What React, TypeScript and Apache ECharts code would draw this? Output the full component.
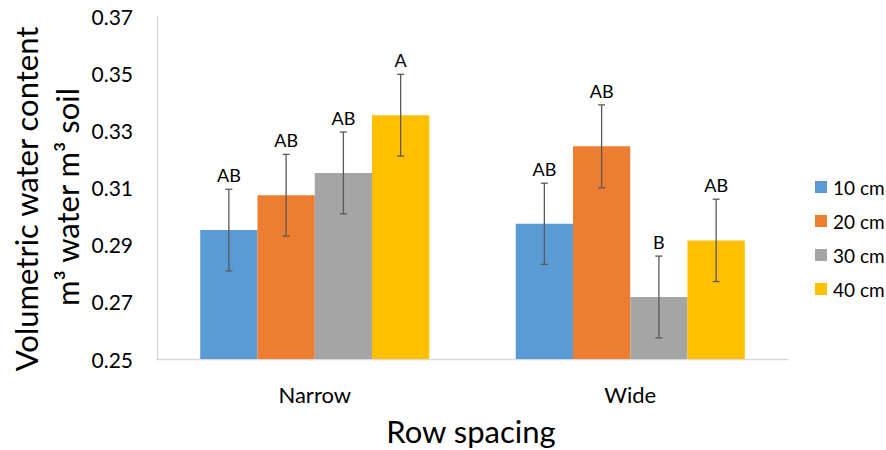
import React, { useEffect, useRef } from "react";
import * as echarts from "echarts";

// Row spacing groups on the x axis
const categories = ["Narrow", "Wide"];
// Sampling depths (one bar per depth in each group)
const depths = ["10 cm", "20 cm", "30 cm", "40 cm"];
const depthColors = ["#5B9BD5", "#ED7D31", "#A5A5A5", "#FFC000"];

// Mean volumetric water content, per depth: [Narrow, Wide]
const vwc10 = [0.2951, 0.2973];
const vwc20 = [0.3073, 0.3244];
const vwc30 = [0.3151, 0.2717];
const vwc40 = [0.3353, 0.2915];
const means = [vwc10, vwc20, vwc30, vwc40];

// Error bar half-widths, per depth: [Narrow, Wide]
const err10 = [0.0143, 0.0142];
const err20 = [0.0143, 0.0145];
const err30 = [0.0143, 0.0143];
const err40 = [0.0143, 0.0144];
const errors = [err10, err20, err30, err40];

// Mean separation letters, per depth: [Narrow, Wide]
const letters10 = ["AB", "AB"];
const letters20 = ["AB", "AB"];
const letters30 = ["AB", "B"];
const letters40 = ["A", "AB"];
const letters = [letters10, letters20, letters30, letters40];

// Y axis tick labels
const yTicks = [0.25, 0.27, 0.29, 0.31, 0.33, 0.35, 0.37];

const FONT = "Lato, 'Open Sans', sans-serif";
const CATEGORY_GAP = 0.274;

export default function App() {
  const ref = useRef<HTMLDivElement>(null);

  useEffect(() => {
    if (!ref.current) return;
    const chart = echarts.init(ref.current, undefined, { renderer: "svg" });

    const barSeries = depths.map((name, i) => ({
      name,
      type: "bar" as const,
      data: means[i],
      barGap: "0%",
      barCategoryGap: `${CATEGORY_GAP * 100}%`,
      itemStyle: { color: depthColors[i] },
    }));

    // [categoryIndex, depthIndex, low, high]
    const errorData: number[][] = [];
    depths.forEach((_, d) => {
      categories.forEach((_, c) => {
        const m = means[d][c];
        const e = errors[d][c];
        errorData.push([c, d, m - e, m + e]);
      });
    });

    const errorSeries = {
      type: "custom" as const,
      name: "errors",
      data: errorData,
      z: 10,
      silent: true,
      renderItem: (params: any, api: any) => {
        const c = api.value(0);
        const d = api.value(1);
        const low = api.coord([c, api.value(2)]);
        const high = api.coord([c, api.value(3)]);
        const band = api.size([1, 0])[0];
        const barW = (band * (1 - CATEGORY_GAP)) / depths.length;
        const x = low[0] + (d - (depths.length - 1) / 2) * barW;
        const cap = 3.5;
        const style = { stroke: "#595959", lineWidth: 1.3 };
        return {
          type: "group",
          children: [
            { type: "line", shape: { x1: x, y1: low[1], x2: x, y2: high[1] }, style },
            { type: "line", shape: { x1: x - cap, y1: low[1], x2: x + cap, y2: low[1] }, style },
            { type: "line", shape: { x1: x - cap, y1: high[1], x2: x + cap, y2: high[1] }, style },
            {
              type: "text",
              x,
              y: high[1] - 14,
              style: {
                text: letters[d][c],
                fill: "#000",
                font: `18px ${FONT}`,
                textAlign: "center",
                textVerticalAlign: "middle",
              },
            },
          ],
        };
      },
    };

    chart.setOption({
      animation: false,
      backgroundColor: "#fff",
      grid: { left: 157, right: 98, top: 16, bottom: 91, containLabel: false },
      legend: {
        data: depths,
        orient: "vertical",
        left: 810,
        top: 172,
        itemWidth: 12,
        itemHeight: 12,
        itemGap: 14,
        icon: "rect",
        textStyle: { fontSize: 19, fontFamily: FONT, color: "#000", lineHeight: 20, padding: [0, 0, 0, 1] },
      },
      xAxis: {
        type: "category",
        data: categories,
        axisLine: { lineStyle: { color: "#d9d9d9", width: 1.3 } },
        axisTick: { show: false },
        axisLabel: { fontSize: 22, fontFamily: FONT, color: "#000", margin: 24 },
      },
      yAxis: {
        type: "value",
        min: 0.25,
        max: 0.37,
        interval: 0.01,
        axisLine: { show: true, lineStyle: { color: "#d9d9d9", width: 1.3 } },
        axisTick: { show: false },
        splitLine: { show: false },
        axisLabel: {
          fontSize: 21,
          fontFamily: FONT,
          color: "#000",
          margin: 24,
          formatter: (v: number) =>
            yTicks.some((t) => Math.abs(t - v) < 1e-6) ? v.toFixed(2) : "",
        },
      },
      graphic: [
        {
          type: "text",
          x: 26,
          y: 199,
          rotation: Math.PI / 2,
          style: {
            text: "Volumetric water content",
            font: `31px ${FONT}`,
            fill: "#000",
            textAlign: "center",
            textVerticalAlign: "middle",
          },
        },
        {
          type: "text",
          x: 67,
          y: 197,
          rotation: Math.PI / 2,
          style: {
            text: "m³ water m³ soil",
            font: `31px ${FONT}`,
            fill: "#000",
            textAlign: "center",
            textVerticalAlign: "middle",
          },
        },
        {
          type: "text",
          x: 471,
          y: 431,
          style: {
            text: "Row spacing",
            font: `31px ${FONT}`,
            fill: "#000",
            textAlign: "center",
            textVerticalAlign: "middle",
          },
        },
      ],
      series: [...barSeries, errorSeries],
    });

    return () => chart.dispose();
  }, []);

  return (
    <div
      ref={ref}
      style={{ position: "absolute", left: 0, top: 0, width: 886, height: 450 }}
    />
  );
}
